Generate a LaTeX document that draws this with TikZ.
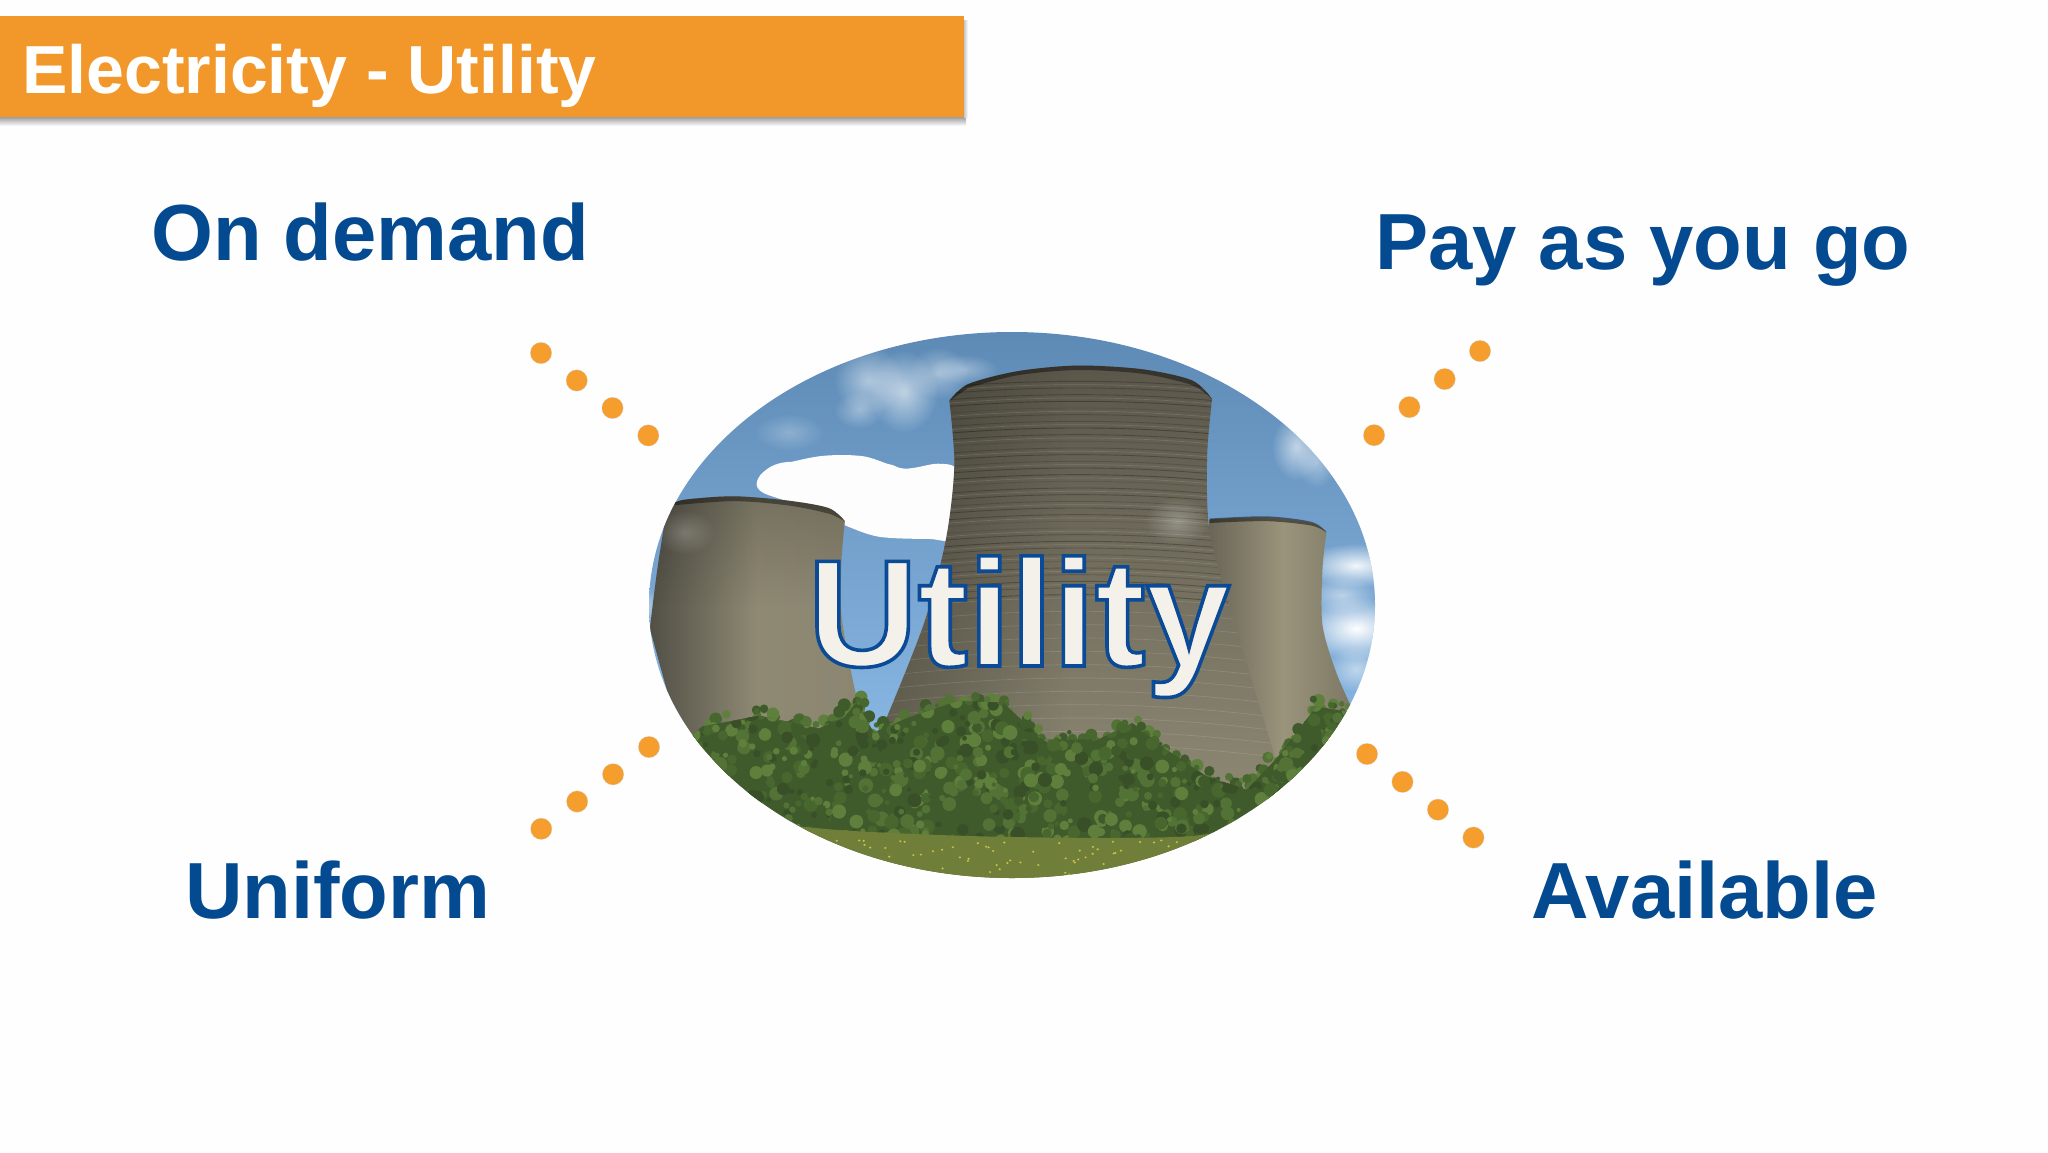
\documentclass[tikz,border=0pt]{standalone}
\usepackage{fontspec}
\setmainfont{Liberation Sans}
\usetikzlibrary{fadings}
\definecolor{bannerC}{HTML}{F2982A}
\definecolor{labelC}{HTML}{034A90}
\definecolor{dotC}{HTML}{F59E2E}
\definecolor{creamC}{HTML}{F3F1E9}
\definecolor{skyA}{HTML}{5B88B3}
\definecolor{skyB}{HTML}{8AB8E4}
\definecolor{towA}{HTML}{4F4D44}
\definecolor{towB}{HTML}{9A947C}
\definecolor{midA}{HTML}{5A564A}
\definecolor{midB}{HTML}{8E8974}
\definecolor{leafA}{HTML}{3F5B2B}
\definecolor{leafB}{HTML}{48672E}
\definecolor{leafC}{HTML}{527335}
\definecolor{leafD}{HTML}{5F7F3D}
\definecolor{leafE}{HTML}{384F27}
\definecolor{grassC}{HTML}{6F7E38}
\tikzfading[name=fuzzyblob, inner color=transparent!0, outer color=transparent!100]
\tikzset{
  labeltext/.style={anchor=base west, inner sep=0pt, text=labelC, font=\bfseries\fontsize{79.6}{90}\selectfont},
  dotline/.style={draw=dotC, line width=21pt, line cap=round, dash pattern=on 0pt off 45.1pt},
  dotshadow/.style={draw=black, opacity=.12, line width=22pt, line cap=round, dash pattern=on 0pt off 45.1pt, yshift=-3pt},
  cloudblob/.style={fill=white, path fading=fuzzyblob},
  ringlight/.style={line width=.7pt, draw=white, opacity=.12}
}
\begin{document}
\begin{tikzpicture}[x=1pt,y=-1pt]
\useasboundingbox (0,0) rectangle (2048,1152);
\fill[white!99.5!black] (0,0) rectangle (2048,1152);
% banner
\shade[top color=black!38, bottom color=white] (0,117) rectangle (966,126);
\shade[left color=black!22, right color=white] (964,20) rectangle (968,117);
\node[anchor=north west, fill=bannerC, minimum width=964pt, minimum height=101pt, inner sep=0pt] (banner) at (0,16) {};
\node[anchor=base west, inner sep=0pt, text=white, font=\bfseries\fontsize{68}{80}\selectfont] (title) at (22,93) {Electricity - Utility};
% picture in the ellipse
\begin{scope}
\clip (1012,605) ellipse [x radius=363, y radius=273];
\begin{scope}[shift={(620,310)}, x=0.4975pt, y=-0.3704pt]
 \shade[top color=skyA, bottom color=skyB] (0,0) rectangle (1600,1200);
 % wispy clouds
 \foreach \cx/\cy/\rx/\ry/\op in {500/190/70/90/.5, 570/220/70/110/.6, 640/170/60/70/.4, 690/160/70/40/.35, 480/270/50/50/.35, 340/330/70/50/.25, 1360/370/50/90/.6, 1400/410/40/70/.4}{
   \fill[cloudblob, opacity=\op] (\cx,\cy) ellipse [x radius=\rx, y radius=\ry];
 }
 % big white cloud
 \fill[white!98!skyB] plot[smooth cycle] coordinates {(275,465) (300,428) (400,395) (490,395) (570,428) (640,415) (680,440) (680,612) (620,618) (520,612) (450,580) (380,535) (290,495)};
 \foreach \cx/\cy/\rx/\ry in {345/455/60/45, 440/440/60/45, 530/450/40/35, 600/560/60/50}{
   \fill[white!98!skyB] (\cx,\cy) ellipse [x radius=\rx, y radius=\ry];
 }
 % clouds on the right
 \foreach \cx/\cy/\rx/\ry/\op in {1480/690/110/60/.9, 1480/860/110/85/1, 1450/770/70/50/.5, 1480/970/60/60/.5, 30/800/50/60/.8}{
   \fill[cloudblob, opacity=\op] (\cx,\cy) ellipse [x radius=\rx, y radius=\ry];
 }
 % right tower
 \shade[left color=midA!75!towB, right color=towB!80!black, middle color=towB]
   plot[smooth] coordinates {(1185,565) (1300,560) (1390,575) (1420,600)}
   -- plot[smooth] coordinates {(1420,600) (1412,700) (1412,850) (1440,980) (1480,1100)}
   -- (1480,1300) -- (1185,1300) -- cycle;
 \fill[black, opacity=.45] plot[smooth] coordinates {(1185,563) (1300,557) (1390,572) (1420,600) (1390,582) (1300,570) (1185,575)} -- cycle;
 % left tower
 \begin{scope}
  \path[clip] plot[smooth] coordinates {(95,530) (130,512) (230,503) (340,515) (420,535) (452,570)}
   -- plot[smooth] coordinates {(452,570) (445,680) (445,820) (465,980) (490,1130)}
   -- (130,1200) -- (60,860) -- plot[smooth] coordinates {(60,860) (75,700) (95,530)} -- cycle;
  \shade[left color=towA, right color=towB!80!towA, middle color=towB!85!towA] (50,490) rectangle (500,1210);
  \shade[top color=black, bottom color=black, opacity=.18, path fading=south] (50,490) rectangle (500,800);
  \fill[black, opacity=.4] plot[smooth] coordinates {(110,515) (230,502) (340,514) (420,535) (452,570) (420,550) (340,528) (230,516) (110,527)} -- cycle;
  \fill[cloudblob, opacity=.2] (130,600) ellipse [x radius=60, y radius=60];
 \end{scope}
 % middle tower
 \begin{scope}
  \path[clip] plot[smooth] coordinates {(662,245) (700,200) (800,165) (920,150) (1050,160) (1150,190) (1190,240)}
    -- plot[smooth] coordinates {(1190,240) (1180,400) (1185,600) (1225,800) (1315,1200)}
    -- (1315,1320) -- (500,1320) -- (530,1120)
    -- plot[smooth] coordinates {(530,1120) (610,850) (655,620) (672,420) (662,245)} -- cycle;
  \shade[top color=midA, bottom color=midB] (480,140) rectangle (1340,1340);
  \fill[black, opacity=.3, path fading=east] (480,140) rectangle (900,1340);
  \pgfmathsetseed{77}
  \foreach \yy in {190,208,...,780}{
    \pgfmathsetmacro{\rop}{.08+rnd*.22}
    \draw[line width=.9pt, black, opacity=\rop] (480,\yy+40) .. controls (800,\yy-10) and (1050,\yy-10) .. (1340,\yy+40);
  }
  \foreach \yy in {199,235,...,1200}{
    \draw[ringlight] (480,\yy+40) .. controls (800,\yy-10) and (1050,\yy-10) .. (1340,\yy+40);
  }
  \fill[black, opacity=.4] plot[smooth] coordinates {(662,245) (700,200) (800,165) (920,150) (1050,160) (1150,190) (1190,240) (1150,203) (1050,172) (920,162) (800,176) (700,210)} -- cycle;
  \fill[cloudblob, opacity=.28] (1120,570) ellipse [x radius=65, y radius=65];
 \end{scope}
 % foliage tips along the top edge of the bushes
 \pgfmathsetseed{531}
 \foreach \ax/\ay/\bx/\by in {165/1115/280/1085, 280/1085/400/1120, 400/1120/450/1090, 450/1090/475/1045, 475/1045/510/1130, 510/1130/580/1090, 580/1090/680/1045, 680/1045/770/1050, 770/1050/850/1150, 850/1150/960/1150, 960/1150/1030/1105, 1030/1105/1090/1170, 1090/1170/1180/1250, 1180/1250/1260/1285, 1260/1285/1320/1200, 1320/1200/1400/1060, 1400/1060/1465/1075}{
   \foreach \k in {1,...,12}{
     \pgfmathsetmacro{\tt}{rnd}
     \pgfmathsetmacro{\bxx}{\ax+(\bx-\ax)*\tt+(rnd-.5)*26}
     \pgfmathsetmacro{\byy}{\ay+(\by-\ay)*\tt+(rnd-.3)*34}
     \pgfmathsetmacro{\brr}{4+rnd*9}
     \pgfmathrandominteger{\bc}{1}{4}
     \ifcase\bc\or\def\lc{leafB}\or\def\lc{leafC}\or\def\lc{leafD}\or\def\lc{leafA}\fi
     \fill[\lc] (\bxx,\byy) ellipse [x radius=\brr, y radius=1.35*\brr];
   }
 }
 % bush body
 \begin{scope}
  \path[clip] (100,1200) -- (165,1125) -- (280,1095) -- (400,1130) -- (450,1100) -- (475,1060) -- (510,1140) -- (580,1100) -- (680,1055) -- (770,1060) -- (850,1160) -- (960,1160) -- (1030,1115) -- (1090,1180) -- (1180,1260) -- (1260,1295) -- (1320,1210) -- (1400,1070) -- (1465,1085) -- (1510,1200) -- (1510,1560) -- (100,1560) -- cycle;
  \fill[leafA] (0,1000) rectangle (1600,1600);
  \pgfmathsetseed{4217}
  \foreach \n in {1,...,1100}{
    \pgfmathsetmacro{\bx}{100+rnd*1420}
    \pgfmathsetmacro{\by}{1040+rnd*400}
    \pgfmathsetmacro{\br}{4+rnd*11}
    \pgfmathrandominteger{\bc}{1}{5}
    \ifcase\bc\or\def\lc{leafA}\or\def\lc{leafB}\or\def\lc{leafC}\or\def\lc{leafD}\or\def\lc{leafE}\fi
    \fill[\lc] (\bx,\by) ellipse [x radius=\br, y radius=1.35*\br];
  }
 \end{scope}
 % grass
 \fill[grassC] plot[smooth] coordinates {(300,1385) (450,1405) (700,1420) (950,1425) (1150,1420) (1300,1385)} -- (1300,1600) -- (300,1600) -- cycle;
 \pgfmathsetseed{991}
 \foreach \n in {1,...,70}{
   \pgfmathsetmacro{\gx}{400+rnd*760}
   \pgfmathsetmacro{\gy}{1430+rnd*95}
   \fill[yellow!55!grassC] (\gx,\gy) ellipse [x radius=2.5, y radius=3];
 }
\end{scope}
\end{scope}
% centre word
\node[anchor=base, inner sep=0pt, text=creamC, font=\bfseries\fontsize{152}{164}\selectfont] (hub) at (1019,666)
 {\special{pdf:code q 2 Tr 3.6 w 0.043 0.29 0.59 RG}Utility\special{pdf:code Q}};
% labels
\node[labeltext] (ondemand) at (151,260) {On demand};
\node[labeltext] (payg) at (1375,269) {Pay as you go};
\node[labeltext] (uniform) at (185,918) {Uniform};
\node[labeltext] (available) at (1531,918) {Available};
% dotted connectors
\coordinate (tlA) at (541,353); \coordinate (tlB) at (649,436);
\coordinate (trA) at (1480,351); \coordinate (trB) at (1373,436);
\coordinate (blA) at (649,747); \coordinate (blB) at (541,829);
\coordinate (brA) at (1367,754); \coordinate (brB) at (1474,838);
\foreach \a/\b in {tlA/tlB, trA/trB, blA/blB, brA/brB}{
  \draw[dotshadow] (\a) -- (\b);
  \draw[dotline] (\a) -- (\b);
}
\end{tikzpicture}
\end{document}
